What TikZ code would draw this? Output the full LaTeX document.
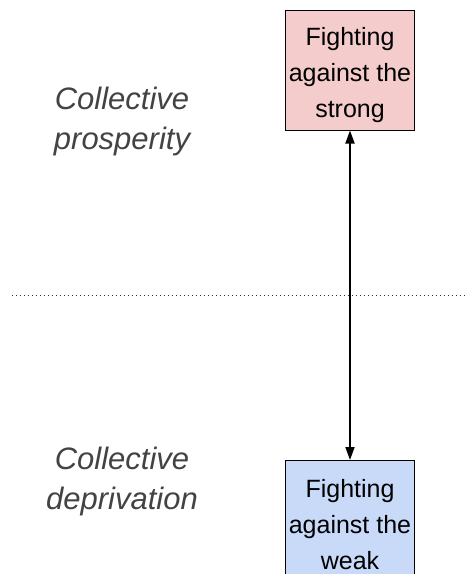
\documentclass[tikz,border=0pt]{standalone}
\usepackage{fontspec}
\setmainfont{Liberation Sans}
\usetikzlibrary{arrows.meta}
\definecolor{pinkfill}{HTML}{F4CCCC}
\definecolor{bluefill}{HTML}{C9DAF8}
\definecolor{labelgray}{HTML}{434343}
\newcommand{\toppad}{\rule{0pt}{29pt}}
\begin{document}
\begin{tikzpicture}[x=1pt,y=-1pt,
  boxstyle/.style={draw=black,line width=1pt,minimum width=127pt,align=center,
    font=\fontsize{25}{36}\selectfont},
  sidelabel/.style={align=center,text=labelgray,font=\fontsize{31}{40}\selectfont\itshape},
  connector/.style={line width=1.8pt,{Triangle[length=13pt,width=9pt]}-{Triangle[length=13pt,width=9pt]}},
  divider/.style={draw=black!80,line width=1pt,dash pattern=on 1pt off 3pt}]
\useasboundingbox (0,0) rectangle (465,574);
\fill[white] (0,0) rectangle (465,574);
\node[boxstyle,fill=pinkfill,minimum height=120pt] (strong) at (350,70) {\toppad Fighting\\against the\\strong};
\node[boxstyle,fill=bluefill,minimum height=118pt,anchor=north] (weak) at (350,460) {\toppad Fighting\\against the\\weak};
\node[sidelabel] (prosp) at (122,121) {Collective\\prosperity};
\node[sidelabel] (depr) at (122,481) {Collective\\deprivation};
\coordinate (dl) at (12,295);
\coordinate (dr) at (465,295);
\draw[divider] (dl) -- (dr);
\draw[connector] (strong.south) -- (weak.north);
\end{tikzpicture}
\end{document}
